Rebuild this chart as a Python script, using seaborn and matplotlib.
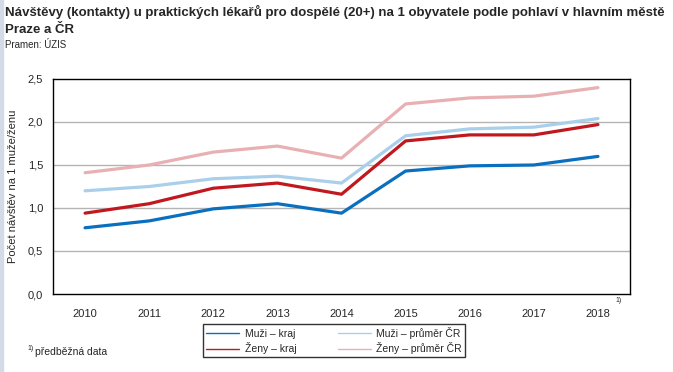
import matplotlib
matplotlib.use("Agg")
import matplotlib.pyplot as plt
import seaborn as sns
import pandas as pd
from matplotlib.lines import Line2D
from matplotlib.patches import Rectangle

years = ["2010", "2011", "2012", "2013", "2014", "2015", "2016", "2017", "2018"]
muzi_kraj = [0.77, 0.85, 0.99, 1.05, 0.94, 1.43, 1.49, 1.50, 1.60]
muzi_cr = [1.20, 1.25, 1.34, 1.37, 1.29, 1.84, 1.92, 1.94, 2.04]
zeny_kraj = [0.94, 1.05, 1.23, 1.29, 1.16, 1.78, 1.85, 1.85, 1.97]
zeny_cr = [1.41, 1.50, 1.65, 1.72, 1.58, 2.21, 2.28, 2.30, 2.40]
series_names = ["Muži – kraj", "Muži – průměr ČR", "Ženy – kraj", "Ženy – průměr ČR"]
y_ticks = [0.0, 0.5, 1.0, 1.5, 2.0, 2.5]

colors = {
    "Muži – kraj": "#0a6fbf",
    "Muži – průměr ČR": "#a9cfeb",
    "Ženy – kraj": "#c1181f",
    "Ženy – průměr ČR": "#e8b0b3",
}

rows = []
for name, vals in zip(series_names, [muzi_kraj, muzi_cr, zeny_kraj, zeny_cr]):
    for i, v in enumerate(vals):
        rows.append({"x": i, "value": v, "series": name})
df = pd.DataFrame(rows)

sns.set_theme(style="white")
plt.rcParams["font.family"] = ["Liberation Sans", "DejaVu Sans"]

fig = plt.figure(figsize=(6.73, 3.72), dpi=100)
ax = fig.add_axes([53 / 673, 1 - 294 / 372, (630 - 53) / 673, (294 - 79) / 372])

for y in y_ticks[1:-1]:
    ax.axhline(y, color="#b4b4b4", lw=1.0, zorder=0)

sns.lineplot(data=df, x="x", y="value", hue="series", hue_order=series_names,
             palette=colors, lw=2.3, ax=ax, legend=False, zorder=3)

ax.set_xlim(-0.5, len(years) - 0.5)
ax.set_ylim(0, 2.5)
ax.set_yticks(y_ticks)
ax.set_yticklabels([f"{v:.1f}".replace(".", ",") for v in y_ticks], fontsize=8)
ax.set_xticks(range(len(years)))
ax.set_xticklabels(years, fontsize=8)
ax.set_xticks([i - 0.5 for i in range(len(years) + 1)], minor=True)
ax.tick_params(axis="x", which="major", length=0, pad=11)
ax.tick_params(axis="x", which="minor", length=4, width=1, color="black", direction="out")
ax.tick_params(axis="y", length=4, width=1, color="black", direction="out", pad=3)
ax.set_xlabel("")
ax.set_ylabel("Počet návštěv na 1 muže/ženu", fontsize=8, labelpad=7)
for s in ax.spines.values():
    s.set_color("black")
    s.set_linewidth(1.0)
    s.set_visible(True)

fig.text(5 / 673, 1 - 12 / 372,
         "Návštěvy (kontakty) u praktických lékařů pro dospělé (20+) na 1 obyvatele podle pohlaví v hlavním městě",
         fontsize=9.5, fontweight="bold", va="center", ha="left")
fig.text(5 / 673, 1 - 30 / 372, "Praze a ČR", fontsize=9.5, fontweight="bold", va="center", ha="left")
fig.text(5 / 673, 1 - 45 / 372, "Pramen: ÚZIS", fontsize=7, va="center", ha="left")

fig.text(615 / 673, 1 - 301 / 372, "1)", fontsize=5, va="center", ha="left")
fig.text(27 / 673, 1 - 349 / 372, "1)", fontsize=5, va="center", ha="left")
fig.text(35 / 673, 1 - 352 / 372, "předběžná data", fontsize=7.5, va="center", ha="left")

order = ["Muži – kraj", "Ženy – kraj", "Muži – průměr ČR", "Ženy – průměr ČR"]
handles = [Line2D([0], [0], color=colors[n], lw=1.0) for n in order]
leg = fig.legend(handles, order, ncol=2, loc="center",
                 bbox_to_anchor=(334 / 673, 1 - 340.5 / 372),
                 fontsize=7.5, frameon=True, fancybox=False, edgecolor="black",
                 handlelength=3.2, handletextpad=0.5, columnspacing=4.0,
                 labelspacing=0.35, borderpad=0.3)
leg.get_frame().set_linewidth(1.0)

fig.patches.append(Rectangle((0, 0), 2.5 / 673, 1, transform=fig.transFigure,
                             color="#d3dbe6", zorder=0))

fig.savefig("out.png", dpi=100)
